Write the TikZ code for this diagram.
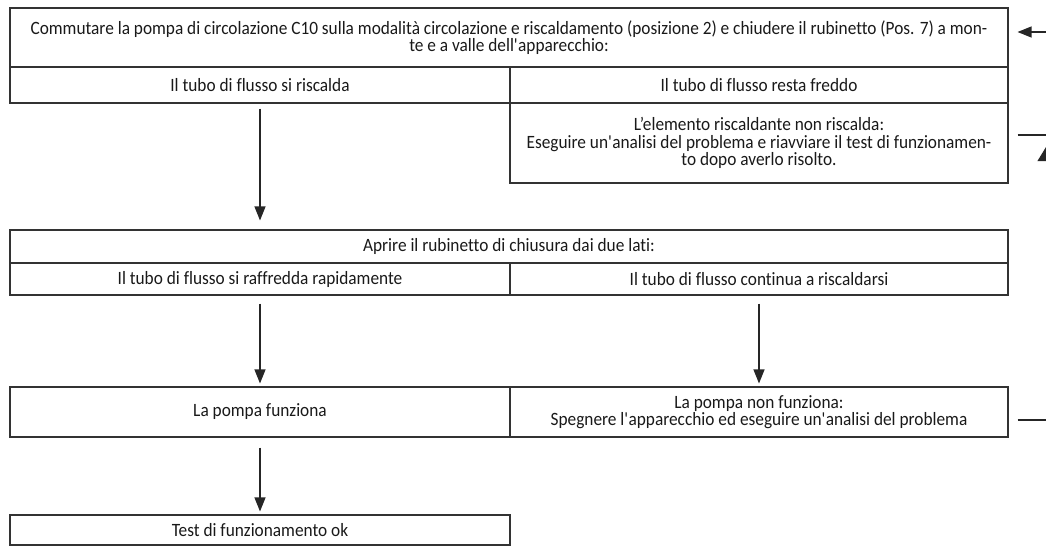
\documentclass[tikz,border=0pt]{standalone}
\usepackage{fontspec}
\setmainfont{Carlito}[Ligatures={TeX,NoCommon},FakeStretch=0.92]
\usetikzlibrary{arrows.meta}
\begin{document}
\begin{tikzpicture}[x=1pt,y=-1pt,
  box/.style={draw=black!80, line width=1.1pt, rectangle, inner sep=0pt, align=center,
    text=black!90, font=\fontsize{18.8pt}{17.5pt}\selectfont},
  flow/.style={draw=black!85, line width=1.2pt, -{Triangle[length=14pt,width=11pt]}},
  plain/.style={draw=black!85, line width=1.2pt}]
\useasboundingbox (0,0) rectangle (1046,552);
\clip (0,0) rectangle (1046,552);
% boxes
\node[box, minimum width=998pt, minimum height=59pt] (A) at (509,37.5)
  {Commutare la pompa di circolazione C10 sulla modalità circolazione e riscaldamento (posizione 2) e chiudere il rubinetto (Pos. 7) a mon-\\te e a valle dell\textquotesingle apparecchio:};
\node[box, minimum width=500pt, minimum height=36pt] (B1) at (260,85) {Il tubo di flusso si riscalda};
\node[box, minimum width=498pt, minimum height=36pt] (B2) at (759,85) {Il tubo di flusso resta freddo};
\node[box, minimum width=498pt, minimum height=80pt] (C) at (759,143)
  {L’elemento riscaldante non riscalda:\\Eseguire un\textquotesingle analisi del problema e riavviare il test di funzionamen-\\to dopo averlo risolto.};
\node[box, minimum width=998pt, minimum height=33pt] (D) at (509,246.5) {Aprire il rubinetto di chiusura dai due lati:};
\node[box, minimum width=500pt, minimum height=32pt] (E1) at (260,279) {Il tubo di flusso si raffredda rapidamente};
\node[box, minimum width=498pt, minimum height=32pt] (E2) at (759,279) {Il tubo di flusso continua a riscaldarsi};
\node[box, minimum width=500pt, minimum height=50pt] (F1) at (260,412) {La pompa funziona};
\node[box, minimum width=498pt, minimum height=50pt] (F2) at (759,412)
  {La pompa non funziona:\\Spegnere l\textquotesingle apparecchio ed eseguire un\textquotesingle analisi del problema};
\node[box, minimum width=500pt, minimum height=30pt] (G) at (260,530) {Test di funzionamento ok};
% coordinates for connectors leaving the picture
\coordinate (retA) at (1060,32);
\coordinate (outC) at (1060,135);
\coordinate (outF) at (1046.6,420);
\coordinate (upF) at (1046.6,146);
% down connectors
\draw[flow, shorten <=5pt, shorten >=9pt] (B1.south) -- (B1.south |- D.north);
\draw[flow, shorten <=8pt, shorten >=3pt] (E1.south) -- (F1.north);
\draw[flow, shorten <=8pt, shorten >=3pt] (E2.south) -- (F2.north);
\draw[flow, shorten <=10pt, shorten >=3pt] (F1.south) -- (G.north);
% right side connectors (cut at the edge)
\draw[flow] (retA) -- ([xshift=9pt]A.east |- retA);
\draw[plain] ([xshift=9pt]C.east |- outC) -- (outC);
\draw[plain] ([xshift=9pt]F2.east |- outF) -- (outF);
\draw[draw=black!85, line width=1.2pt, -{Triangle[length=15pt,width=18pt]}] (outF) -- (upF);
\end{tikzpicture}
\end{document}
